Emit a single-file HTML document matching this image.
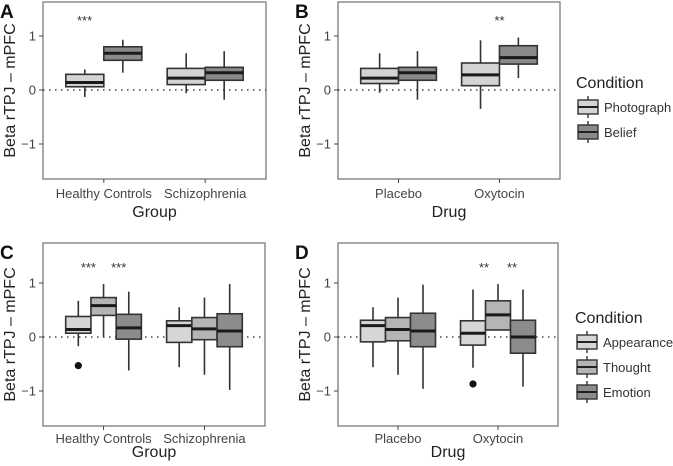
<!DOCTYPE html>
<html><head><meta charset="utf-8"><style>
body{margin:0;background:#fff;}
svg{display:block;font-family:"Liberation Sans",Arial,sans-serif;}
</style></head><body>
<svg id="c" width="673" height="466" viewBox="0 0 673 466"></svg>
<script>
// data: [whiskerLow, q1, median, q3, whiskerHigh]
const panelA_cats = ["Healthy Controls","Schizophrenia"];
const panelA_series = ["Photograph","Belief"];
const panelA_photo = [[-0.13,0.06,0.14,0.29,0.38],[-0.06,0.10,0.22,0.40,0.68]];
const panelA_belief = [[0.32,0.55,0.68,0.80,0.93],[-0.18,0.18,0.32,0.42,0.72]];
const panelB_cats = ["Placebo","Oxytocin"];
const panelB_photo = [[-0.05,0.12,0.22,0.40,0.68],[-0.35,0.08,0.28,0.50,0.92]];
const panelB_belief = [[-0.18,0.18,0.32,0.42,0.72],[0.22,0.48,0.60,0.82,0.97]];
const panelC_app = [[-0.17,0.07,0.14,0.38,0.67],[-0.56,-0.10,0.21,0.30,0.55]];
const panelC_tho = [[0.00,0.40,0.58,0.73,0.98],[-0.70,-0.05,0.15,0.36,0.73]];
const panelC_emo = [[-0.62,-0.04,0.17,0.42,0.84],[-0.98,-0.18,0.11,0.43,0.98]];
const panelC_outliers = [[-0.53],[]];
const panelD_app = [[-0.56,-0.09,0.21,0.31,0.55],[-0.57,-0.15,0.07,0.30,0.88]];
const panelD_tho = [[-0.70,-0.07,0.14,0.36,0.73],[0.13,0.13,0.41,0.67,0.98]];
const panelD_emo = [[-0.96,-0.18,0.11,0.44,0.97],[-0.92,-0.30,0.00,0.31,0.88]];
const panelD_outliers = [[],[-0.87]];
const yTicks = [-1,0,1];

const NS="http://www.w3.org/2000/svg";
const svg=document.getElementById('c');
function el(t,a,p){const e=document.createElementNS(NS,t);for(const k in a)e.setAttribute(k,a[k]);(p||svg).appendChild(e);return e;}
function txt(s,a,p){const e=el('text',a,p);e.textContent=s;return e;}

function panel(o){
  const g=el('g',{});
  
  
  const X0=o.x0,X1=o.x1,Y0=o.y0,Y1=o.y1,y0px=o.zeroY,unit=54;
  const ys=v=>y0px-v*unit;
  const catW=(X1-X0)/2.2;
  const xs=i=>X0+(i+1-0.4)*catW;
  const r=el('rect',{x:X0,y:Y0,width:X1-X0,height:Y1-Y0,fill:'#fff',stroke:'#7a7a7a','stroke-width':1.3},g);
  
  const zl=el('line',{x1:X0,x2:X1,y1:ys(0),y2:ys(0),stroke:'#222','stroke-width':1.3,'stroke-dasharray':'1.5 4.5'},g);
  
  yTicks.forEach(t=>{
    el('line',{x1:X0-4,x2:X0,y1:ys(t),y2:ys(t),stroke:'#444','stroke-width':1},g);
    const tl=txt(t<0?'−'+Math.abs(t):String(t),{x:X0-7,y:ys(t)+4.5,'text-anchor':'end','font-size':13,fill:'#444'},g);
    
  });
  o.cats.forEach((c,i)=>{
    el('line',{x1:xs(i),x2:xs(i),y1:Y1,y2:Y1+4,stroke:'#444','stroke-width':1},g);
    const tl=txt(c,{x:xs(i),y:Y1+o.tickOff,'text-anchor':'middle','font-size':13,fill:'#444'},g);
    
  });
  const xt=txt(o.xTitle,{x:(X0+X1)/2,y:Y1+o.titleOff,'text-anchor':'middle','font-size':16,fill:'#222'},g);
  
  const yt=txt('Beta rTPJ – mPFC',{transform:`translate(${o.x0-28},${(Y0+Y1)/2}) rotate(-90)`,'text-anchor':'middle','font-size':16,fill:'#222'},g);
  
  const lt=txt(o.letter,{x:o.x0-43,y:Y0+16,'font-size':19,'font-weight':'bold',fill:'#111'},g);
  
  const n=o.series.length, bw=0.75/n*catW;
  o.series.forEach((s,si)=>{
    s.forEach((d,i)=>{
      const cx=xs(i)+(si-(n-1)/2)*bw;
      const bg=el('g',{},g);
      
      
      el('line',{x1:cx,x2:cx,y1:ys(d[0]),y2:ys(d[4]),stroke:'#333','stroke-width':1.6},bg);
      el('rect',{x:cx-bw/2,y:ys(d[3]),width:bw,height:ys(d[1])-ys(d[3]),fill:o.colors[si],stroke:'#333','stroke-width':1.6},bg);
      el('line',{x1:cx-bw/2,x2:cx+bw/2,y1:ys(d[2]),y2:ys(d[2]),stroke:'#1a1a1a','stroke-width':3},bg);
      if(o.outliers&&si===0)o.outliers[i].forEach(v=>{
        const c=el('circle',{cx:cx,cy:ys(v),r:3.6,fill:'#111'},g);
        
      });
    });
  });
  o.stars.forEach(st=>{
    const s=txt(st.t,{x:xs(st.i)+st.dx*catW,y:ys(1.3)+5,'text-anchor':'middle','font-size':13,fill:'#333'},g);
    
  });
}
function legend(x,ty,names,colors,y0){
  const g=el('g',{});
  
  const t=txt('Condition',{x:x,y:ty+6,'font-size':16,fill:'#222'},g);
  
  names.forEach((n,i)=>{
    const cy=y0+i*25;
    const e=el('g',{},g);
    
    el('line',{x1:x+12,x2:x+12,y1:cy-11,y2:cy+11,stroke:'#333','stroke-width':1.4},e);
    el('rect',{x:x+2,y:cy-7,width:20,height:14,fill:colors[i],stroke:'#333','stroke-width':1.4},e);
    el('line',{x1:x+2,x2:x+22,y1:cy,y2:cy,stroke:'#222','stroke-width':2},e);
    txt(n,{x:x+28,y:cy+5,'font-size':13,fill:'#333'},e);
  });
}
const c2=['#d4d4d4','#8a8a8a'], c3=['#d6d6d6','#b5b5b5','#8c8c8c'];
panel({letter:'A',x0:43,x1:266,y0:2,y1:179,zeroY:90,tickOff:19,titleOff:38,cats:panelA_cats,xTitle:'Group',series:[panelA_photo,panelA_belief],names:panelA_series,colors:c2,stars:[{i:0,dx:-0.19,t:'***'}]});
panel({letter:'B',x0:338,x1:560,y0:2,y1:179,zeroY:90,tickOff:19,titleOff:38,cats:panelB_cats,xTitle:'Drug',series:[panelB_photo,panelB_belief],names:panelA_series,colors:c2,stars:[{i:1,dx:0.0,t:'**'}]});
panel({letter:'C',x0:43,x1:265,y0:243,y1:426,zeroY:337,tickOff:17,titleOff:31,cats:panelA_cats,xTitle:'Group',series:[panelC_app,panelC_tho,panelC_emo],names:['Appearance','Thought','Emotion'],colors:c3,outliers:panelC_outliers,stars:[{i:0,dx:-0.15,t:'***'},{i:0,dx:0.15,t:'***'}]});
panel({letter:'D',x0:338,x1:558,y0:243,y1:426,zeroY:337,tickOff:17,titleOff:31,cats:panelB_cats,xTitle:'Drug',series:[panelD_app,panelD_tho,panelD_emo],names:['Appearance','Thought','Emotion'],colors:c3,outliers:panelD_outliers,stars:[{i:1,dx:-0.14,t:'**'},{i:1,dx:0.14,t:'**'}]});
legend(576,82,['Photograph','Belief'],c2,107);
legend(575,317,['Appearance','Thought','Emotion'],c3,342);
</script>
</body></html>
